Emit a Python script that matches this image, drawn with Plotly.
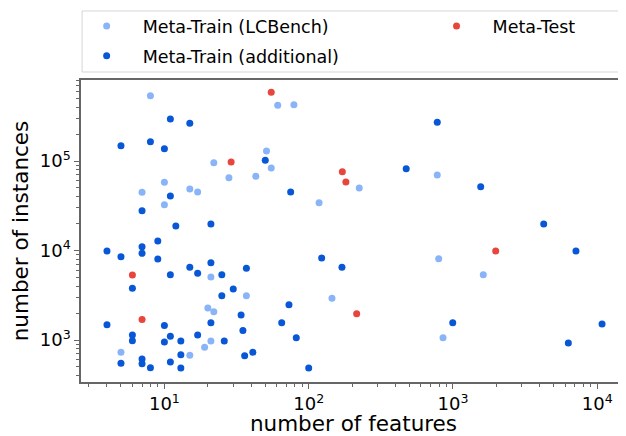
import plotly.graph_objects as go

# values: (number of features, number of instances)
lcbench_features = [8, 22, 28, 43, 51, 55, 61, 79, 10, 7, 15, 17, 10, 118, 224,
                    21, 37, 20, 22, 145, 5, 15, 19, 21,
                    778, 796, 1622, 853]
lcbench_instances = [537000, 95700, 65000, 67400, 129000, 83600, 419000, 426000,
                     57800, 44700, 48700, 45100, 32500, 34200, 49900,
                     5060, 3130, 2280, 2070, 2920, 729, 675, 828, 975,
                     69800, 8090, 5370, 1060]

additional_features = [5, 8, 10, 11, 15, 50, 75, 11, 7,
                       12, 21, 9, 7, 7, 4, 5, 9, 21, 15, 17, 11, 25, 37,
                       6, 30, 25, 123, 170, 73, 34, 65, 4, 21, 10,
                       6, 6, 11, 17, 35, 82, 10, 13, 26, 13, 36, 41,
                       5, 7, 7, 8, 11, 13, 100,
                       778, 474, 1556, 4253, 7116, 996, 10790, 6300]
additional_instances = [148000, 164000, 137000, 294000, 264000, 102000, 45100, 40600, 27900,
                        18800, 19800, 12800, 11000, 9300, 9860, 8530, 8030, 7310, 6490, 5560,
                        5370, 5370, 6320,
                        3780, 3720, 3130, 8250, 6490, 2480, 1900, 1560, 1480, 1560, 1450,
                        1140, 982, 1100, 1140, 1280, 1060, 950, 975, 975, 685, 668, 729,
                        549, 614, 544, 491, 568, 487, 487,
                        271000, 82000, 51600, 19800, 9860, 1560, 1510, 925]

test_features = [55, 29, 171, 181, 6, 7, 215, 1977]
test_instances = [586000, 97500, 75900, 58200, 5330, 1700, 1970, 9860]

FONT = "DejaVu Sans"
AXIS_GREY = "#666666"

fig = go.Figure()

fig.add_trace(go.Scatter(
    x=lcbench_features, y=lcbench_instances, mode="markers",
    name="Meta-Train (LCBench)", legend="legend", legendgroup="lc",
    marker=dict(color="#8ab4f8", size=7, line=dict(width=0)),
))
fig.add_trace(go.Scatter(
    x=additional_features, y=additional_instances, mode="markers",
    name="Meta-Train (additional)", legend="legend", legendgroup="add",
    marker=dict(color="#0757d6", size=7, line=dict(width=0)),
))
fig.add_trace(go.Scatter(
    x=test_features, y=test_instances, mode="markers",
    name="Meta-Test", legend="legend2",
    marker=dict(color="#e8453c", size=7, line=dict(width=0)),
))

# minor tick positions (2..9 times each decade)
x_minor = [d * 10 ** k for k in range(0, 5) for d in range(2, 10)]
y_minor = [d * 10 ** k for k in range(2, 6) for d in range(2, 10)]

axis_common = dict(
    type="log",
    showgrid=False,
    zeroline=False,
    showline=True,
    linecolor=AXIS_GREY,
    linewidth=1.5,
    ticks="outside",
    ticklen=5,
    tickwidth=1,
    tickcolor=AXIS_GREY,
    tickfont=dict(family=FONT, size=18, color="black"),
    automargin=False,
)

fig.update_xaxes(
    **axis_common,
    range=[0.422, 4.199],
    mirror=True,
    tickmode="array",
    tickvals=[10, 100, 1000, 10000],
    ticktext=["10<sup>1</sup>", "10<sup>2</sup>", "10<sup>3</sup>", "10<sup>4</sup>"],
    minor=dict(tickmode="array", tickvals=x_minor, ticks="outside", ticklen=3,
               tickcolor=AXIS_GREY, showgrid=False),
    title=dict(text="number of features", font=dict(family=FONT, size=21.5, color="black"),
               standoff=10),
)
fig.update_yaxes(
    **axis_common,
    range=[2.531, 5.905],
    tickmode="array",
    tickvals=[1000, 10000, 100000],
    ticktext=["10<sup>3</sup>", "10<sup>4</sup>", "10<sup>5</sup>"],
    minor=dict(tickmode="array", tickvals=y_minor, ticks="outside", ticklen=3,
               tickcolor=AXIS_GREY, showgrid=False),
    title=dict(text="number of instances", font=dict(family=FONT, size=21.5, color="black"),
               standoff=12),
)

legend_style = dict(
    orientation="v",
    xanchor="left",
    yanchor="top",
    bgcolor="rgba(0,0,0,0)",
    borderwidth=0,
    itemwidth=62,
    tracegroupgap=4,
    font=dict(family=FONT, size=17.5, color="black"),
)

# the page body has an 8px margin, so the figure is 8px smaller than the window
fig.update_layout(
    width=618,
    height=428,
    margin=dict(l=73, r=0, t=72, b=54, autoexpand=False),
    plot_bgcolor="white",
    paper_bgcolor="white",
    font=dict(family=FONT),
    showlegend=True,
    legend=dict(**legend_style, x=-0.019, y=1.238),
    legend2=dict(**legend_style, x=0.623, y=1.238),
    # frame round both legend columns, as one box
    shapes=[dict(type="rect", xref="paper", yref="paper",
                 x0=0.002, x1=1.05, y0=1.0265, y1=1.2285,
                 line=dict(color="#d6d6d6", width=1), layer="below")],
)

fig.write_html("out.html")
